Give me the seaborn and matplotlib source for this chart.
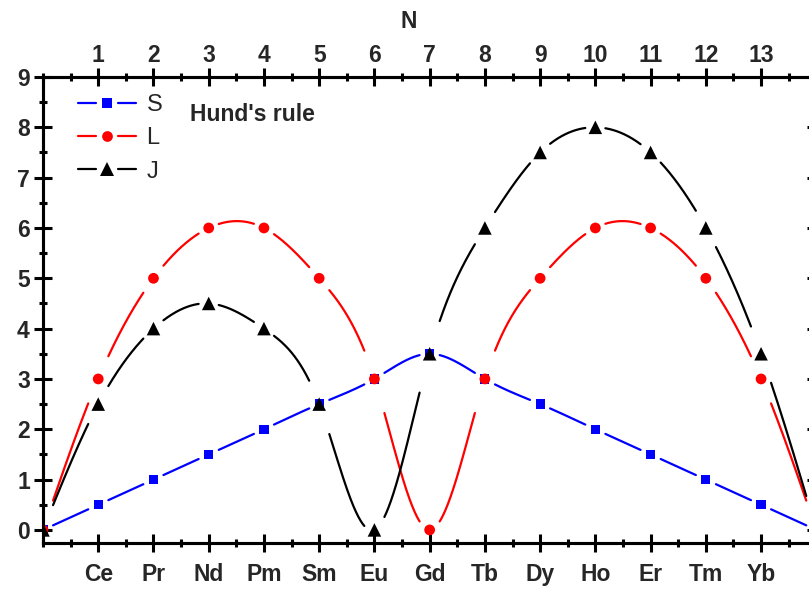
import numpy as np
import matplotlib
matplotlib.use("Agg")
import matplotlib.pyplot as plt
from matplotlib.lines import Line2D
from matplotlib.legend_handler import HandlerBase
from matplotlib.ticker import MultipleLocator
import seaborn as sns

# 4f electron count (La ... Lu) and the Hund's-rule ground-state quantum numbers
n_electrons = [0, 1, 2, 3, 4, 5, 6, 7, 8, 9, 10, 11, 12, 13, 14]
spin_S = [0, 0.5, 1, 1.5, 2, 2.5, 3, 3.5, 3, 2.5, 2, 1.5, 1, 0.5, 0]
orbital_L = [0, 3, 5, 6, 6, 5, 3, 0, 3, 5, 6, 6, 5, 3, 0]
total_J = [0, 2.5, 4, 4.5, 4, 2.5, 0, 3.5, 6, 7.5, 8, 7.5, 6, 3.5, 0]

tick_positions = [1, 2, 3, 4, 5, 6, 7, 8, 9, 10, 11, 12, 13]
element_labels = ["Ce", "Pr", "Nd", "Pm", "Sm", "Eu", "Gd", "Tb", "Dy",
                  "Ho", "Er", "Tm", "Yb"]
series_names = ["S", "L", "J"]

sns.set_theme(style="white")
plt.rcParams["font.family"] = ["Liberation Sans", "DejaVu Sans"]

W, H = 809, 590
fig = plt.figure(figsize=(W / 100, H / 100), dpi=100)
# axes run from N = 0 to N = 14; the right edge lies just past the canvas
ax = fig.add_axes([43 / W, 1 - 543 / H, 773.3 / W, (543 - 77) / H])
ax.set_xlim(0, 14)
ax.set_ylim(-0.26, 9)


def natural_spline(x, y, xs):
    """Evaluate a natural cubic spline through (x, y) at xs."""
    x = np.asarray(x, float)
    y = np.asarray(y, float)
    n = len(x)
    h = np.diff(x)
    A = np.zeros((n, n))
    b = np.zeros(n)
    A[0, 0] = A[-1, -1] = 1.0
    for i in range(1, n - 1):
        A[i, i - 1] = h[i - 1]
        A[i, i] = 2 * (h[i - 1] + h[i])
        A[i, i + 1] = h[i]
        b[i] = 6 * ((y[i + 1] - y[i]) / h[i] - (y[i] - y[i - 1]) / h[i - 1])
    M = np.linalg.solve(A, b)
    idx = np.clip(np.searchsorted(x, xs) - 1, 0, n - 2)
    x0, x1 = x[idx], x[idx + 1]
    hh = x1 - x0
    t0, t1 = x1 - xs, xs - x0
    return (M[idx] * t0 ** 3 / (6 * hh) + M[idx + 1] * t1 ** 3 / (6 * hh)
            + (y[idx] / hh - M[idx] * hh / 6) * t0
            + (y[idx + 1] / hh - M[idx + 1] * hh / 6) * t1)


styles = {
    "S": dict(color="#0000ff", marker="s", size=44),
    "L": dict(color="#ff0000", marker="o", size=60),
    "J": dict(color="#000000", marker="^", size=95),
}
values = {"S": spin_S, "L": orbital_L, "J": total_J}

gap = 0.18  # horizontal clearance left between a curve and its symbols
xs = np.linspace(0, 14, 4001)
for name in series_names:
    st = styles[name]
    ys = natural_spline(n_electrons, values[name], xs)
    near = np.min(np.abs(xs[:, None] - np.asarray(n_electrons)[None, :]), axis=1) < gap
    ys = np.where(near, np.nan, ys)
    ax.plot(xs, ys, color=st["color"], lw=1.6, zorder=2)
    sns.scatterplot(x=n_electrons, y=values[name], marker=st["marker"],
                    color=st["color"], s=st["size"], edgecolor="none",
                    linewidth=0, ax=ax, zorder=3, legend=False)

# axes frame and ticks
for side in ["left", "right", "top", "bottom"]:
    ax.spines[side].set_visible(True)
    ax.spines[side].set_linewidth(2.2)
    ax.spines[side].set_color("black")

ax.set_xticks(tick_positions)
ax.set_xticklabels(element_labels)
ax.set_yticks(range(0, 10))
ax.xaxis.set_minor_locator(MultipleLocator(0.5))
ax.yaxis.set_minor_locator(MultipleLocator(0.5))
ax.tick_params(which="major", direction="inout", length=13, width=2.2,
               color="black", left=True, right=True, bottom=True, top=False,
               labelsize=16.5, pad=3)
ax.tick_params(which="minor", direction="inout", length=6, width=2.2,
               color="black", left=True, right=True, bottom=True, top=False)
ax.tick_params(axis="x", which="major", pad=8)
for lab in ax.get_xticklabels() + ax.get_yticklabels():
    lab.set_fontweight("bold")
ax.grid(False)

top = ax.twiny()
top.set_xlim(0, 14)
top.set_xticks(tick_positions)
top.set_xticklabels([str(n) for n in tick_positions])
top.xaxis.set_minor_locator(MultipleLocator(0.5))
top.tick_params(which="major", direction="inout", length=13, width=2.2,
                color="black", top=True, labelsize=16.5, pad=1)
top.tick_params(which="minor", direction="inout", length=6, width=2.2,
                color="black", top=True)
for lab in top.get_xticklabels():
    lab.set_fontweight("bold")
for side in ["left", "right", "top", "bottom"]:
    top.spines[side].set_linewidth(2.2)
    top.spines[side].set_color("black")
top.grid(False)

fig.text(408.5 / W, 1 - 21 / H, "N", ha="center", va="center",
         fontsize=16.5, fontweight="bold")
fig.text(190 / W, 1 - 114 / H, "Hund's rule", ha="left", va="center",
         fontsize=16.5, fontweight="bold")


class GappedHandle(HandlerBase):
    """Legend key: line segment, symbol, line segment with gaps between."""

    def create_artists(self, legend, orig_handle, xdescent, ydescent,
                       width, height, fontsize, trans):
        y = height / 2 - ydescent
        x0 = -xdescent
        x1 = x0 + width
        xm = (x0 + x1) / 2
        g = 0.19 * width
        c = orig_handle.get_color()
        left = Line2D([x0, xm - g], [y, y], color=c, lw=1.6, transform=trans)
        right = Line2D([xm + g, x1], [y, y], color=c, lw=1.6, transform=trans)
        sym = Line2D([xm], [y], ls="none", marker=orig_handle.get_marker(),
                     markersize=orig_handle.get_markersize(), color=c,
                     markeredgewidth=0, transform=trans)
        return [left, right, sym]


handles = [Line2D([], [], color=styles[n]["color"], marker=styles[n]["marker"],
                  markersize=np.sqrt(styles[n]["size"])) for n in series_names]
leg = ax.legend(handles, series_names, handler_map={Line2D: GappedHandle()},
                loc="upper left", bbox_to_anchor=(78 / W, 1 - 94 / H),
                bbox_transform=fig.transFigure, frameon=False, fontsize=17,
                handlelength=2.45, handletextpad=0.45, labelspacing=0.48,
                borderpad=0, borderaxespad=0)

fig.savefig("out.png", dpi=100)
